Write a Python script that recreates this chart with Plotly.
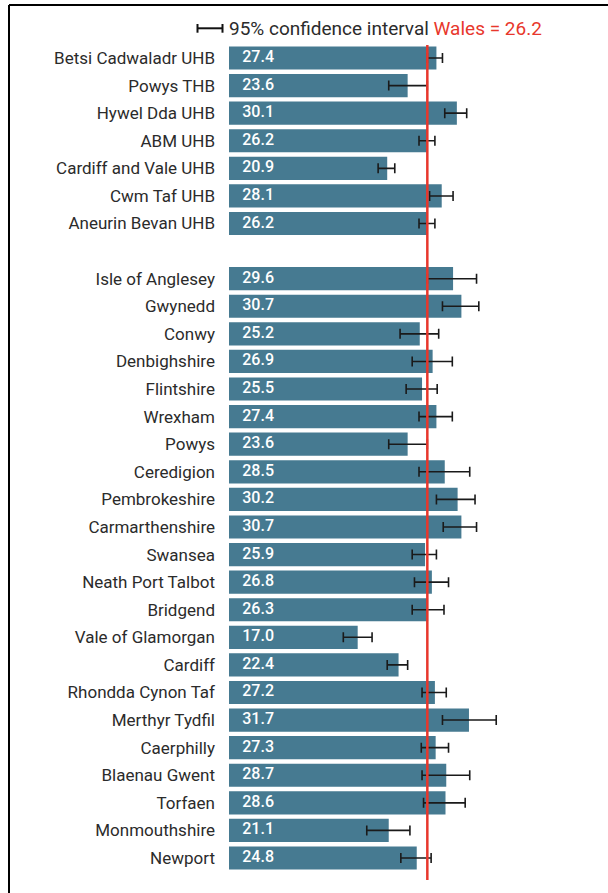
import plotly.graph_objects as go

# ---------------- data ----------------
hb_names = ["Betsi Cadwaladr UHB", "Powys THB", "Hywel Dda UHB", "ABM UHB",
            "Cardiff and Vale UHB", "Cwm Taf UHB", "Aneurin Bevan UHB"]
hb_values = [27.4, 23.6, 30.1, 26.2, 20.9, 28.1, 26.2]
hb_lo = [26.2, 21.1, 28.5, 25.1, 19.7, 26.5, 25.1]
hb_hi = [28.2, 26.2, 31.4, 27.2, 21.9, 29.6, 27.2]

la_names = ["Isle of Anglesey", "Gwynedd", "Conwy", "Denbighshire", "Flintshire",
            "Wrexham", "Powys", "Ceredigion", "Pembrokeshire", "Carmarthenshire",
            "Swansea", "Neath Port Talbot", "Bridgend", "Vale of Glamorgan",
            "Cardiff", "Rhondda Cynon Taf", "Merthyr Tydfil", "Caerphilly",
            "Blaenau Gwent", "Torfaen", "Monmouthshire", "Newport"]
la_values = [29.6, 30.7, 25.2, 26.9, 25.5, 27.4, 23.6, 28.5, 30.2, 30.7,
             25.9, 26.8, 26.3, 17.0, 22.4, 27.2, 31.7, 27.3, 28.7, 28.6, 21.1, 24.8]
la_lo = [26.2, 28.2, 22.6, 24.2, 23.4, 25.1, 21.1, 25.1, 27.4, 28.3,
         24.2, 24.5, 24.2, 15.1, 20.9, 25.5, 28.2, 25.4, 25.5, 25.7, 18.2, 22.7]
la_hi = [32.7, 33.0, 27.7, 29.5, 27.5, 29.5, 26.2, 31.8, 32.5, 32.7,
         27.4, 29.0, 28.4, 18.9, 23.6, 28.7, 35.3, 29.0, 31.8, 31.2, 23.9, 26.7]

wales_value = 26.2
legend_ci_text = "95% confidence interval"
legend_wales_text = "Wales = " + f"{wales_value:.1f}"

# ---------------- layout constants ----------------
W, H = 608, 893
ML, MR, MT, MB = 229, 8, 45, 13
PX_PER_UNIT = 7.57
BAR_COLOR = "#467A91"
RED = "#E8372C"
TEXT_COLOR = "#2b2b2b"
FONT = "Roboto"

names = hb_names + la_names
values = hb_values + la_values
lo = hb_lo + la_lo
hi = hb_hi + la_hi
# position: health boards, one blank row, then local authorities
pos = list(range(len(hb_names))) + [len(hb_names) + 1 + i for i in range(len(la_names))]

plot_w = W - ML - MR
plot_h = H - MT - MB
x_max = plot_w / PX_PER_UNIT
n_rows = pos[-1]
row_px = (858 - 58) / n_rows
y_top = -(58 - MT) / row_px
y_bot = n_rows + (H - MB - 858) / row_px

def px_x(px):
    return (px - ML) / plot_w

def px_y(py):
    return (H - MB - py) / plot_h

fig = go.Figure()

fig.add_trace(go.Bar(
    x=values, y=pos, orientation="h",
    marker=dict(color=BAR_COLOR, line=dict(width=0)),
    width=0.84,
    error_x=dict(type="data", symmetric=False,
                 array=[h - v for h, v in zip(hi, values)],
                 arrayminus=[v - l for l, v in zip(lo, values)],
                 color="#1a1a1a", thickness=1.6, width=5),
    hoverinfo="skip", showlegend=False,
))

# value labels inside bars
fig.add_trace(go.Scatter(
    x=[1.75] * len(values), y=pos, mode="text",
    text=[f"{v:.1f}" for v in values], textposition="middle right",
    textfont=dict(color="white", size=16, family=FONT, weight=500),
    hoverinfo="skip", showlegend=False,
))

# Wales reference line
fig.add_shape(type="line", xref="x", yref="paper", x0=wales_value, x1=wales_value,
              y0=0, y1=1, line=dict(color=RED, width=2.5), layer="above")

# legend: CI icon
ly = px_y(28.3)
fig.add_shape(type="line", xref="paper", yref="paper", x0=px_x(197), x1=px_x(223),
              y0=ly, y1=ly, line=dict(color="#111111", width=2))
for xx in (197.5, 222.5):
    fig.add_shape(type="line", xref="paper", yref="paper", x0=px_x(xx), x1=px_x(xx),
                  y0=px_y(24), y1=px_y(32.7), line=dict(color="#111111", width=2))
fig.add_annotation(xref="paper", yref="paper", x=px_x(227), y=ly, xanchor="left",
                   yanchor="middle", showarrow=False,
                   text=f"{legend_ci_text} <span style='color:{RED}'>{legend_wales_text}</span>",
                   font=dict(size=19, color=TEXT_COLOR, family=FONT))

# frame (top and left border)
fig.add_shape(type="line", xref="paper", yref="paper", x0=px_x(9), x1=px_x(W + 5),
              y0=px_y(5), y1=px_y(5), line=dict(color="black", width=2))
fig.add_shape(type="line", xref="paper", yref="paper", x0=px_x(9), x1=px_x(9),
              y0=px_y(5), y1=px_y(H + 5), line=dict(color="black", width=2))

fig.update_layout(
    width=W, height=H,
    margin=dict(l=ML, r=MR, t=MT, b=MB, autoexpand=False),
    paper_bgcolor="white", plot_bgcolor="white",
    bargap=0.16,
    font=dict(family=FONT, color=TEXT_COLOR),
    xaxis=dict(range=[0, x_max], visible=False, fixedrange=True),
    yaxis=dict(range=[y_bot, y_top], tickmode="array", tickvals=pos, ticktext=names,
               showgrid=False, zeroline=False, showline=False, ticks="",
               ticklabelstandoff=13, tickfont=dict(size=17, color=TEXT_COLOR, family=FONT)),
)

fig.write_html("out.html")
